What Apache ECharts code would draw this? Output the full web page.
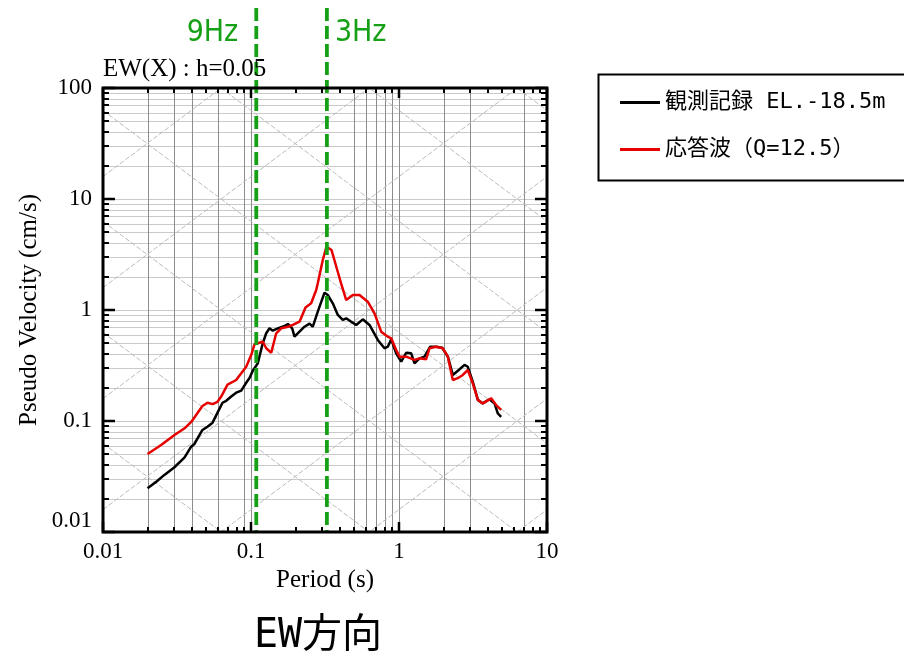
<!DOCTYPE html>
<html>
<head>
<meta charset="utf-8">
<script src="https://cdn.jsdelivr.net/npm/echarts@6/dist/echarts.min.js"></script>
<style>
  html, body { margin: 0; padding: 0; background: #fff; }
  #chart { width: 904px; height: 657px; }
</style>
</head>
<body>
<div id="chart"></div>
<script>
// Observed record (EL.-18.5m): period (s) and pseudo velocity (cm/s)
const periodsObs = [
  0.0200, 0.0229, 0.0260, 0.0304, 0.0356, 0.0394, 0.0415, 0.0442, 0.0470, 0.0508,
  0.0550, 0.0594, 0.0642, 0.0680, 0.0735, 0.0794, 0.0859, 0.0928, 0.0977, 0.1028,
  0.1112, 0.1200, 0.1267, 0.1334, 0.1403, 0.1518, 0.1684, 0.1773, 0.1898, 0.1968,
  0.2127, 0.2299, 0.2485, 0.2617, 0.2826, 0.3139, 0.3300, 0.3570, 0.3860, 0.4170,
  0.4400, 0.4750, 0.5140, 0.5690, 0.6320, 0.7190, 0.7980, 0.8400, 0.8860, 0.9570,
  1.035, 1.118, 1.209, 1.273, 1.376, 1.486, 1.625, 1.783, 1.958, 2.138,
  2.310, 2.535, 2.770, 2.917, 3.150, 3.410, 3.680, 4.090, 4.420, 4.650,
  4.900
];
const velObs = [
  0.0248, 0.0284, 0.0327, 0.0383, 0.0471, 0.0587, 0.0621, 0.0722, 0.0830, 0.0889,
  0.0966, 0.119, 0.146, 0.152, 0.166, 0.180, 0.188, 0.221, 0.244, 0.284,
  0.331, 0.501, 0.617, 0.684, 0.651, 0.684, 0.718, 0.748, 0.684, 0.575,
  0.638, 0.707, 0.753, 0.707, 0.966, 1.432, 1.365, 1.149, 0.902, 0.813,
  0.842, 0.785, 0.733, 0.824, 0.733, 0.537, 0.452, 0.467, 0.545, 0.407,
  0.342, 0.412, 0.407, 0.331, 0.367, 0.380, 0.467, 0.467, 0.457, 0.380,
  0.260, 0.288, 0.320, 0.308, 0.226, 0.155, 0.144, 0.157, 0.144, 0.117,
  0.109
];

// Response wave (Q=12.5)
const periodsResp = [
  0.0200, 0.0247, 0.0304, 0.0356, 0.0396, 0.0435, 0.0470, 0.0508, 0.0550, 0.0594,
  0.0629, 0.0694, 0.0794, 0.0928, 0.1003, 0.1056, 0.1200, 0.1267, 0.1370, 0.1480,
  0.1600, 0.1773, 0.1916, 0.2127, 0.2335, 0.2550, 0.2758, 0.2826, 0.3055, 0.3236,
  0.3500, 0.3860, 0.4090, 0.4400, 0.4875, 0.5410, 0.6150, 0.6830, 0.7580, 0.8400,
  0.8860, 0.9570, 1.008, 1.118, 1.273, 1.376, 1.527, 1.607, 1.783, 1.977,
  2.138, 2.310, 2.495, 2.700, 2.917, 3.150, 3.410, 3.680, 4.200, 4.540,
  4.900
];
const velResp = [
  0.0504, 0.0608, 0.0748, 0.0859, 0.0986, 0.118, 0.1365, 0.146, 0.142, 0.149,
  0.166, 0.213, 0.234, 0.308, 0.393, 0.491, 0.518, 0.452, 0.412, 0.617,
  0.684, 0.707, 0.733, 0.785, 1.054, 1.149, 1.514, 1.741, 2.82, 3.72,
  3.47, 2.20, 1.68, 1.23, 1.365, 1.365, 1.188, 0.933, 0.638, 0.575,
  0.556, 0.436, 0.380, 0.380, 0.355, 0.367, 0.360, 0.452, 0.467, 0.452,
  0.380, 0.234, 0.243, 0.260, 0.288, 0.219, 0.155, 0.144, 0.160, 0.139,
  0.126
];

const seriesNames = ['観測記録 EL.-18.5m', '応答波（Q=12.5）'];
const seriesColors = ['#000000', '#e60000'];

// Axis extents and decade tick labels
const X_MIN = 0.01, X_MAX = 10;
const Y_MIN = 0.01, Y_MAX = 100;
const xDecades = [0.01, 0.1, 1, 10];
const yDecades = [0.01, 0.1, 1, 10, 100];

// Vertical guide lines (period, s)
const xGridPeriods = [0.02, 0.03, 0.04, 0.06, 0.09, 0.1, 0.5, 0.6, 0.7, 0.8, 0.9, 1, 2, 3, 7];

// Tripartite guides: constant acceleration (gal) and constant displacement (cm)
const accelLevels = [0.01, 0.1, 1, 10, 100, 1000, 10000, 100000];
const dispLevels = [0.00001, 0.0001, 0.001, 0.01, 0.1, 1, 10, 100, 1000];

// Frequency markers (Hz)
const markerFreqs = [9, 3];
const markerLabels = ['9Hz', '3Hz'];

const SERIF = "'Liberation Serif', 'Times New Roman', serif";
const GOTHIC = "'DejaVu Sans Mono', 'Noto Sans CJK JP', monospace";
const NARROW = "'Liberation Sans Narrow', 'DejaVu Sans Condensed', 'Noto Sans', sans-serif";
const GREEN = '#16a016';

// 1..9 x each decade (tick and horizontal-grid positions)
function minorSteps(decades) {
  const out = [];
  decades.forEach(function (d, i) {
    if (i === decades.length - 1) return;
    for (let k = 2; k <= 9; k++) out.push(+(k * d).toPrecision(6));
  });
  return out;
}
const xMinor = minorSteps(xDecades);
const yMinor = minorSteps(yDecades);

function fmt(v) { return String(parseFloat(Number(v).toPrecision(6))); }
function crisp(v) { return Math.round(v) + 0.5; }

const chart = echarts.init(document.getElementById('chart'), null, { renderer: 'canvas' });

const option = {
  animation: false,
  backgroundColor: '#ffffff',
  title: {
    text: 'EW(X) : h=0.05',
    left: 103, top: 57, padding: 0,
    textStyle: { fontFamily: SERIF, fontSize: 25, fontWeight: 'normal', color: '#000' }
  },
  grid: { left: 103, right: 357, top: 88, bottom: 125, containLabel: false },
  legend: {
    data: seriesNames,
    orient: 'vertical',
    left: 620, top: 90,
    itemWidth: 40, itemHeight: 3,
    icon: 'rect',
    itemGap: 22,
    padding: 0,
    textStyle: { fontSize: 22, fontFamily: GOTHIC, color: '#000', lineHeight: 25 }
  },
  xAxis: {
    type: 'log', logBase: 10, min: X_MIN, max: X_MAX, splitNumber: 3,
    name: 'Period (s)', nameLocation: 'middle', nameGap: 35,
    nameTextStyle: { fontFamily: SERIF, fontSize: 25, color: '#000' },
    axisLine: { show: false }, axisTick: { show: false }, splitLine: { show: false },
    axisLabel: { fontFamily: SERIF, fontSize: 23, color: '#000', margin: 8, formatter: fmt }
  },
  yAxis: {
    type: 'log', logBase: 10, min: Y_MIN, max: Y_MAX, splitNumber: 4,
    name: 'Pseudo Velocity (cm/s)', nameLocation: 'middle', nameGap: 61, nameRotate: 90,
    nameTextStyle: { fontFamily: SERIF, fontSize: 25, color: '#000' },
    axisLine: { show: false }, axisTick: { show: false }, splitLine: { show: false },
    axisLabel: {
      fontFamily: SERIF, fontSize: 23, color: '#000', margin: 11,
      formatter: function (v) {
        const s = fmt(v);
        return v <= Y_MIN * 1.0001 ? '{lo|' + s + '}' : s;
      },
      rich: { lo: { fontFamily: SERIF, fontSize: 23, color: '#000', padding: [0, 0, 22, 0] } }
    }
  },
  graphic: [
    {
      type: 'rect', left: 596, top: 72, z: 10,
      shape: { width: 307, height: 106 },
      style: { fill: 'none', stroke: '#000', lineWidth: 2 }
    },
    {
      type: 'text', x: 318, y: 637, z: 10,
      style: { text: 'EW方向', fill: '#000', font: "40px 'DejaVu Sans Mono', 'Noto Sans CJK JP', sans-serif", align: 'center', verticalAlign: 'middle' }
    }
  ],
  series: [
    // horizontal guide lines at every 1..9 step
    {
      type: 'custom', name: 'hgrid', silent: true, z: 1,
      data: yMinor.concat(yDecades.slice(1, -1)).map(function (v) { return [X_MIN, v]; }),
      renderItem: function (params, api) {
        const v = api.value(1);
        const a = api.coord([X_MIN, v]), b = api.coord([X_MAX, v]);
        const y = crisp(a[1]);
        return { type: 'line', shape: { x1: a[0], y1: y, x2: b[0], y2: y }, style: { stroke: '#cacaca', lineWidth: 1 } };
      }
    },
    // vertical guide lines
    {
      type: 'custom', name: 'vgrid', silent: true, z: 1,
      data: xGridPeriods.map(function (t) { return [t, Y_MIN]; }),
      renderItem: function (params, api) {
        const t = api.value(0);
        const a = api.coord([t, Y_MIN]), b = api.coord([t, Y_MAX]);
        const x = crisp(a[0]);
        return { type: 'line', shape: { x1: x, y1: a[1], x2: x, y2: b[1] }, style: { stroke: '#8c8c8c', lineWidth: 1 } };
      }
    },
    // constant spectral acceleration: SV = SA * T / (2π)
    {
      type: 'custom', name: 'accel', silent: true, z: 1, clip: true,
      data: accelLevels.map(function (a) { return [X_MIN, Y_MIN, a]; }),
      renderItem: function (params, api) {
        const sa = api.value(2);
        const p = api.coord([X_MIN, sa * X_MIN / (2 * Math.PI)]);
        const q = api.coord([X_MAX, sa * X_MAX / (2 * Math.PI)]);
        return { type: 'line', shape: { x1: p[0], y1: p[1], x2: q[0], y2: q[1] }, style: { stroke: '#bcbcbc', lineWidth: 1, lineDash: [5, 2] } };
      }
    },
    // constant spectral displacement: SV = 2π * SD / T
    {
      type: 'custom', name: 'disp', silent: true, z: 1, clip: true,
      data: dispLevels.map(function (d) { return [X_MIN, Y_MIN, d]; }),
      renderItem: function (params, api) {
        const sd = api.value(2);
        const p = api.coord([X_MIN, 2 * Math.PI * sd / X_MIN]);
        const q = api.coord([X_MAX, 2 * Math.PI * sd / X_MAX]);
        return { type: 'line', shape: { x1: p[0], y1: p[1], x2: q[0], y2: q[1] }, style: { stroke: '#bcbcbc', lineWidth: 1, lineDash: [5, 2] } };
      }
    },
    // spectra
    {
      name: seriesNames[0], type: 'line', z: 3, color: seriesColors[0],
      showSymbol: false, symbol: 'none', smooth: false,
      lineStyle: { color: seriesColors[0], width: 2.5 },
      data: periodsObs.map(function (t, i) { return [t, velObs[i]]; })
    },
    {
      name: seriesNames[1], type: 'line', z: 3, color: seriesColors[1],
      showSymbol: false, symbol: 'none', smooth: false,
      lineStyle: { color: seriesColors[1], width: 2.5 },
      data: periodsResp.map(function (t, i) { return [t, velResp[i]]; })
    },
    // frequency markers
    {
      type: 'custom', name: 'freq', silent: true, z: 4,
      data: markerFreqs.map(function (f, i) { return [1 / f, Y_MIN, i]; }),
      renderItem: function (params, api) {
        const t = api.value(0), i = api.value(2);
        const bot = api.coord([t, Y_MIN]);
        const top = api.coord([t, Y_MAX]);
        const x = bot[0] - 1.5;
        const left = i === 0;
        return {
          type: 'group',
          children: [
            { type: 'line', shape: { x1: x, y1: top[1] - 80, x2: x, y2: bot[1] },
              style: { stroke: GREEN, lineWidth: 3.8, lineDash: [13, 5] } },
            { type: 'text', x: left ? x - 18 : x + 8, y: top[1] - 55,
              style: { text: markerLabels[i], fill: GREEN, font: '30px ' + NARROW,
                       align: left ? 'right' : 'left', verticalAlign: 'middle' } }
          ]
        };
      }
    },
    // x ticks, bottom and top, pointing inward
    {
      type: 'custom', name: 'xticks', silent: true, z: 5,
      data: xDecades.map(function (t) { return [t, Y_MIN, 1]; }).concat(xMinor.map(function (t) { return [t, Y_MIN, 0]; })),
      renderItem: function (params, api) {
        const t = api.value(0), major = api.value(2) === 1;
        const b = api.coord([t, Y_MIN]), u = api.coord([t, Y_MAX]);
        const len = major ? 10 : 5, w = major ? 2.5 : 2;
        const x = Math.round(b[0]);
        return {
          type: 'group',
          children: [
            { type: 'line', shape: { x1: x, y1: b[1], x2: x, y2: b[1] - len }, style: { stroke: '#000', lineWidth: w } },
            { type: 'line', shape: { x1: x, y1: u[1], x2: x, y2: u[1] + len }, style: { stroke: '#000', lineWidth: w } }
          ]
        };
      }
    },
    // y ticks, left and right, pointing inward
    {
      type: 'custom', name: 'yticks', silent: true, z: 5,
      data: yDecades.map(function (v) { return [X_MIN, v, 1]; }).concat(yMinor.map(function (v) { return [X_MIN, v, 0]; })),
      renderItem: function (params, api) {
        const v = api.value(1), major = api.value(2) === 1;
        const l = api.coord([X_MIN, v]), r = api.coord([X_MAX, v]);
        const len = major ? 12 : 6, w = major ? 2.5 : 2;
        const y = Math.round(l[1]);
        return {
          type: 'group',
          children: [
            { type: 'line', shape: { x1: l[0], y1: y, x2: l[0] + len, y2: y }, style: { stroke: '#000', lineWidth: w } },
            { type: 'line', shape: { x1: r[0], y1: y, x2: r[0] - len, y2: y }, style: { stroke: '#000', lineWidth: w } }
          ]
        };
      }
    },
    // plot frame
    {
      type: 'custom', name: 'frame', silent: true, z: 6,
      data: [[X_MIN, Y_MIN]],
      renderItem: function (params, api) {
        const p = api.coord([X_MIN, Y_MAX]), q = api.coord([X_MAX, Y_MIN]);
        return { type: 'rect', shape: { x: p[0], y: p[1], width: q[0] - p[0], height: q[1] - p[1] },
                 style: { fill: 'none', stroke: '#000', lineWidth: 3 } };
      }
    }
  ]
};

chart.setOption(option);
</script>
</body>
</html>
